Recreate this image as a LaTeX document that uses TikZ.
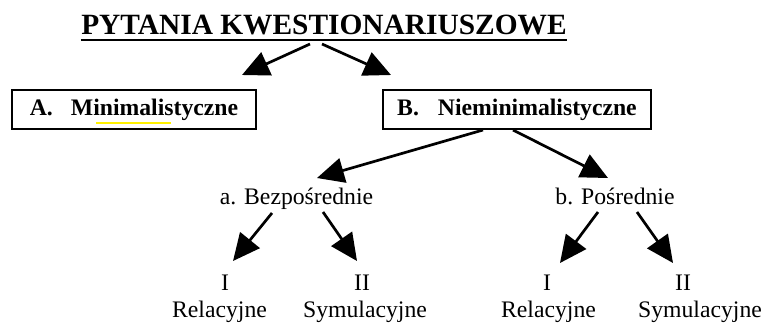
\documentclass[tikz,border=0pt]{standalone}
\usepackage{fontspec}
\setmainfont{Liberation Serif}
\usetikzlibrary{arrows.meta}
\tikzset{every picture/.style={line width=0.75pt}}
\tikzset{bigarr/.style={line width=2.7pt,-{Triangle[length=27pt,width=25pt]}},
         katbox/.style={draw,line width=2pt,minimum height=39pt,inner sep=0pt,font=\fontsize{23.7}{27}\selectfont\bfseries},
         lbl/.style={anchor=base,inner sep=0pt,font=\fontsize{23.7}{27}\selectfont}}

\begin{document}
\begin{tikzpicture}[x=1pt,y=1pt,yscale=-1,xscale=1]
    \useasboundingbox (0,0) rectangle (763,322);
    % title
    \node (title) [anchor=base,inner sep=0pt,font=\fontsize{29.4}{32}\selectfont\bfseries] at (324,34) {PYTANIA KWESTIONARIUSZOWE};
    \draw [line width=2.5pt] ([yshift=6pt]title.base west) -- ([yshift=6pt]title.base east);
    % boxes
    \draw [yellow,line width=2.5pt] (96,123) -- (171,123);
    \node (minA) [katbox,minimum width=244pt] at (134,109.5) {A.\hspace{18pt}Minimalistyczne};
    \node (nieB) [katbox,minimum width=268pt] at (517,109.5) {B.\hspace{19pt}Nieminimalistyczne};
    % second level
    \node (bezp) [lbl] at (296.5,204) {a. Bezpośrednie};
    \node (posr) [lbl] at (615,204) {b. Pośrednie};
    % third level
    \node (relA) [lbl] at (225,290) {I};
    \node (symA) [lbl] at (362,290) {II};
    \node (relB) [lbl] at (547,290) {I};
    \node (symB) [lbl] at (683,290) {II};
    \node (relAt) [lbl] at (219.5,317) {Relacyjne};
    \node (symAt) [lbl] at (365,317) {Symulacyjne};
    \node (relBt) [lbl] at (548.5,317) {Relacyjne};
    \node (symBt) [lbl] at (700,317) {Symulacyjne};
    % arrows
    \draw [bigarr] ([xshift=-14pt,yshift=10pt]title.base) -- ([xshift=-15pt,yshift=-14pt]minA.north east);
    \draw [bigarr] ([xshift=-2pt,yshift=10pt]title.base) -- ([xshift=9pt,yshift=-14pt]nieB.north west);
    \draw [bigarr] ([xshift=-34pt]nieB.south) -- ([xshift=20.5pt,yshift=-26pt]bezp.base);
    \draw [bigarr] ([xshift=-4pt]nieB.south) -- ([xshift=-7pt,yshift=-26pt]posr.base);
    \draw [bigarr] ([xshift=-24.5pt,yshift=9pt]bezp.base) -- ([xshift=8pt,yshift=-29pt]relA.base);
    \draw [bigarr] ([xshift=26.5pt,yshift=8pt]bezp.base) -- ([xshift=-5pt,yshift=-29pt]symA.base);
    \draw [bigarr] ([xshift=-17pt,yshift=8pt]posr.base) -- ([xshift=13pt,yshift=-27pt]relB.base);
    \draw [bigarr] ([xshift=22pt,yshift=8pt]posr.base) -- ([xshift=-10pt,yshift=-27pt]symB.base);
\end{tikzpicture}
\end{document}
